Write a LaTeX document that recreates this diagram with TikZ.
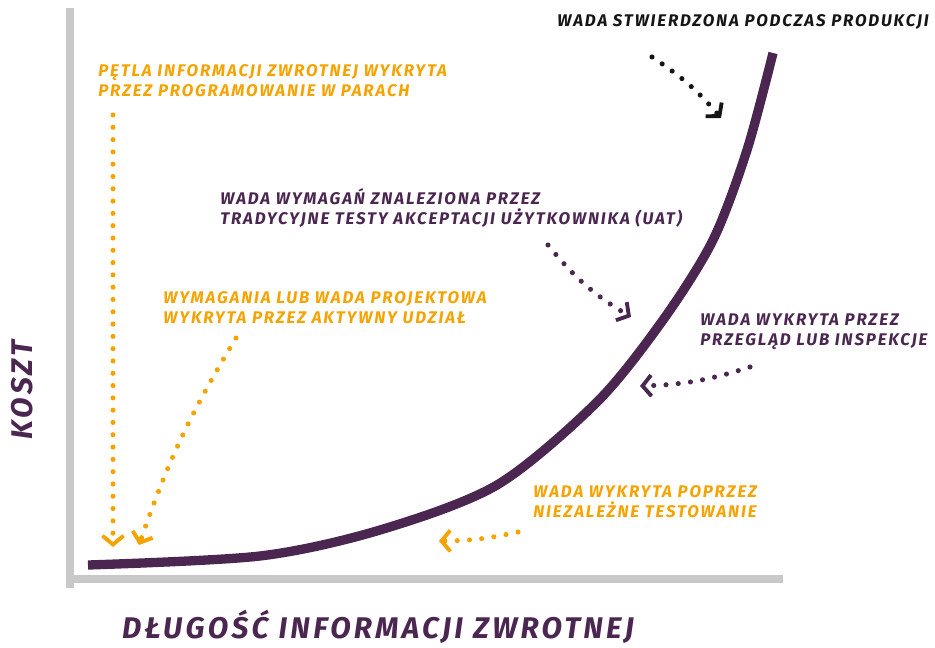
\documentclass[tikz,border=0pt]{standalone}
\usepackage{fontspec}
\setmainfont{Fira Sans}
\newfontfamily\handfont{Fira Sans}[LetterSpace=11]
\usetikzlibrary{shapes,arrows,calc,arrows.meta}
\definecolor{plum}{HTML}{4A2650}
\definecolor{amber}{HTML}{F5A300}
\definecolor{axisgray}{HTML}{C8C8C8}
\definecolor{ink}{HTML}{151515}
\tikzset{
  note/.style={font=\handfont\bfseries\itshape\fontsize{9.6}{11.4}\selectfont, align=left, anchor=west, inner sep=0pt},
  axislabel/.style={font=\handfont\bfseries\itshape\fontsize{17}{19}\selectfont, inner sep=0pt},
  hint/.style={line width=2.9pt, line cap=round, dash pattern=on 0pt off 7pt,
    -{Straight Barb[length=5pt, width=12pt, line width=2.2pt]}},
}
\begin{document}
\begin{tikzpicture}[x=0.02cm, y=-0.02cm]
            \useasboundingbox (0,0) rectangle (935,648);
            \draw[axisgray, line width=4.5pt] (70,8) -- (70,588);
            \draw[axisgray, line width=4.5pt] (66,579) -- (783,579);
            \draw[plum, line width=5.3pt] plot[smooth, tension=0.5] coordinates {(88,565) (260,556) (380,530) (497,485) (597,402) (663,320) (713,240) (747,150) (773,53)};

            \draw (557,22) node[note, ink] (prodnote) {WADA STWIERDZONA PODCZAS PRODUKCJI};
            \draw (98,81) node[note, amber] (pairnote) {PĘTLA INFORMACJI ZWROTNEJ WYKRYTA\\PRZEZ PROGRAMOWANIE W PARACH};
            \draw (220,208) node[note, plum] (uatnote) {WADA WYMAGAŃ ZNALEZIONA PRZEZ\\TRADYCYJNE TESTY AKCEPTACJI UŻYTKOWNIKA (UAT)};
            \draw (163,308) node[note, amber] (designnote) {WYMAGANIA LUB WADA PROJEKTOWA\\WYKRYTA PRZEZ AKTYWNY UDZIAŁ};
            \draw (700,332) node[note, plum] (reviewnote) {WADA WYKRYTA PRZEZ\\PRZEGLĄD LUB INSPEKCJE};
            \draw (533,502) node[note, amber] (testnote) {WADA WYKRYTA POPRZEZ\\NIEZALEŻNE TESTOWANIE};
            \draw (22,390) node[axislabel, plum, rotate=90] (costlabel) {KOSZT};
            \draw (378,627) node[axislabel, plum] (lengthlabel) {DŁUGOŚĆ INFORMACJI ZWROTNEJ};

            \coordinate (prodfrom) at (652,57);
            \coordinate (prodto) at (721,118);
            \coordinate (pairfrom) at (113,115);
            \coordinate (pairto) at (113,547);
            \coordinate (designfrom) at (236,338);
            \coordinate (designto) at (139,545);
            \coordinate (uatfrom) at (548,245);
            \coordinate (uatto) at (631,317);
            \coordinate (reviewfrom) at (750,367);
            \coordinate (reviewto) at (640,386);
            \coordinate (testfrom) at (518,532);
            \coordinate (testto) at (439,541);

            \path[hint, ink] (prodfrom) edge[bend left=8] (prodto);
            \path[hint, amber] (pairfrom) edge (pairto)
                               (designfrom) edge[bend right=6] (designto)
                               (testfrom) edge[bend left=6] (testto);
            \path[hint, plum] (uatfrom) edge[bend right=10] (uatto)
                              (reviewfrom) edge[bend left=8] (reviewto);
        \end{tikzpicture}
\end{document}
